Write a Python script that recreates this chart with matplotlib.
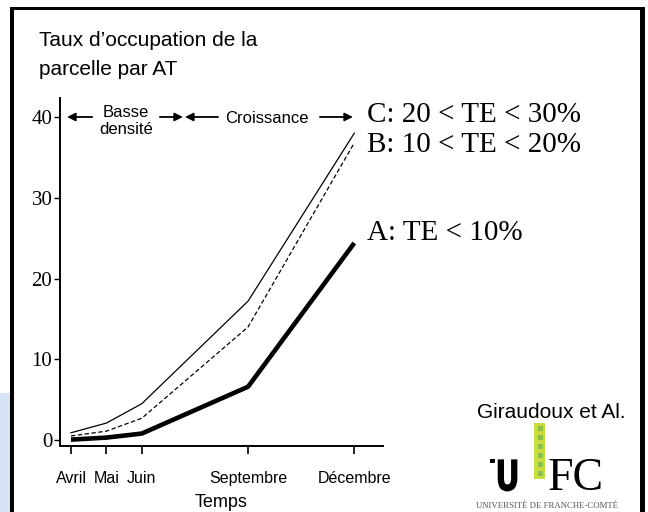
import matplotlib
matplotlib.use('Agg')
import matplotlib.pyplot as plt
from matplotlib.patches import Rectangle, PathPatch
from matplotlib.textpath import TextPath
from matplotlib.font_manager import FontProperties
from matplotlib.transforms import Affine2D
from matplotlib import font_manager

# Données (Giraudoux et al.)
mois = [4, 5, 6, 9, 12]
mois_labels = ['Avril', 'Mai', 'Juin', 'Septembre', 'Décembre']
serie_c = [0.9, 2.1, 4.5, 17.2, 38.0]    # C: 20 < TE < 30%
serie_b = [0.5, 1.1, 2.7, 14.0, 36.8]    # B: 10 < TE < 20%
serie_a = [0.05, 0.3, 0.8, 6.6, 24.4]    # A: TE < 10%
y_ticks = [0, 10, 20, 30, 40]

noms = {f.name for f in font_manager.fontManager.ttflist}
SANS = 'Liberation Sans' if 'Liberation Sans' in noms else 'DejaVu Sans'
SERIF = 'Liberation Serif' if 'Liberation Serif' in noms else 'DejaVu Serif'

W, H = 648, 512
fig = plt.figure(figsize=(W / 100, H / 100), dpi=100)


def px(x, y):
    # pixels (origine en haut à gauche) -> fraction de figure
    return x / W, 1 - y / H


def rect_px(x0, y0, x1, y1, **kw):
    fig.add_artist(Rectangle(px(x0, y1), (x1 - x0) / W, (y1 - y0) / H,
                             transform=fig.transFigure, **kw))


# cadre de la diapositive
rect_px(0, 393, 10, 512, color='#d6e3f4', lw=0)
rect_px(10, 7, 645, 10, color='black', lw=0)
rect_px(10, 7, 14, 512, color='black', lw=0)
rect_px(640, 7, 645, 512, color='black', lw=0)

ax = fig.add_axes([60 / W, 1 - 446 / H, (383 - 60) / W, (446 - 98) / H])
ax.plot(mois, serie_c, color='black', lw=0.9)
ax.plot(mois, serie_b, color='black', lw=0.9, ls=(0, (3.5, 2)))
ax.plot(mois, serie_a, color='black', lw=3.3, solid_capstyle='butt')

ax.set_xlim(3.69, 12.81)
ax.set_ylim(-0.74, 42.35)
ax.set_xticks(mois)
ax.set_xticklabels(mois_labels, family=SANS, fontsize=11.5)
ax.set_yticks(y_ticks)
ax.set_yticklabels([str(v) for v in y_ticks], family=SERIF, fontsize=15)
ax.tick_params(axis='x', length=6, width=1.2, pad=12)
ax.tick_params(axis='y', length=4.5, width=1.0, pad=1)
for s in ['top', 'right']:
    ax.spines[s].set_visible(False)
for s in ['left', 'bottom']:
    ax.spines[s].set_linewidth(1.4)
ax.set_xlabel('Temps', family=SANS, fontsize=13, labelpad=6)

# flèches des phases
fleche = dict(arrowstyle='-|>', color='black', lw=1.3, mutation_scale=12,
              shrinkA=0, shrinkB=0)
for tail, head in [(4.60, 3.89), (6.51, 7.16), (8.15, 7.22), (11.03, 11.96)]:
    ax.annotate('', xy=(head, 40), xytext=(tail, 40), arrowprops=fleche,
                annotation_clip=False)
ax.text(5.56, 39.5, 'Basse\ndensité', family=SANS, fontsize=12,
        ha='center', va='center', linespacing=1.15)
ax.text(9.53, 39.75, 'Croissance', family=SANS, fontsize=12,
        ha='center', va='center')

ax.text(12.35, 39.4, 'C: 20 < TE < 30%', family=SERIF, fontsize=21,
        va='baseline', clip_on=False)
ax.text(12.35, 35.7, 'B: 10 < TE < 20%', family=SERIF, fontsize=21,
        va='baseline', clip_on=False)
ax.text(12.35, 24.8, 'A: TE < 10%', family=SERIF, fontsize=21,
        va='baseline', clip_on=False)

# titre de l'axe y
fig.text(*px(39, 46), 'Taux d’occupation de la', family=SANS, fontsize=15,
         va='baseline')
fig.text(*px(39, 75), 'parcelle par AT', family=SANS, fontsize=15,
         va='baseline')

fig.text(*px(477, 418), 'Giraudoux et Al.', family=SANS, fontsize=15,
         va='baseline')

# logo UFC : un U gras et étroit
rect_px(490, 459, 495, 463, color='black', lw=0)
chemin_u = TextPath((0, 0), 'U', size=43,
                    prop=FontProperties(family=SANS, weight='bold'))
fig.add_artist(PathPatch(chemin_u, facecolor='black', edgecolor='black',
                         lw=1.5,
                         transform=Affine2D().scale(0.68, 1.0).translate(497, H - 490)))
rect_px(534, 423, 545, 479, color='#c9dd3c', lw=0)
for i in range(6):
    y0 = 426 + i * 9
    rect_px(538, y0, 543, y0 + 5, color='#8cbf45', lw=0)
fig.text(*px(548, 490), 'FC', family=SERIF, fontsize=33, va='baseline')
fig.text(*px(547, 508), 'UNIVERSITÉ DE FRANCHE-COMTÉ', family=SERIF,
         fontsize=6.3, color='#555555', ha='center', va='baseline')

fig.savefig('out.png', dpi=100)
